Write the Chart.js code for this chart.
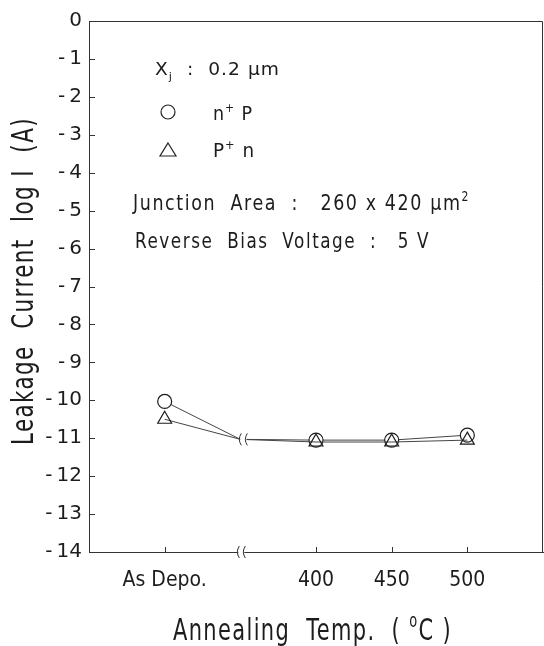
<!DOCTYPE html>
<html>
<head>
<meta charset="utf-8">
<script src="https://cdn.jsdelivr.net/npm/chart.js@4"></script>
<style>
  html, body { margin: 0; padding: 0; background: #fff; }
  canvas { display: block; }
</style>
</head>
<body>
<canvas id="chart" width="544" height="646"></canvas>
<script>
// --- DONNEES ---
const categories = ['As Depo.', '', '400', '450', '500'];
const xPos = [0, 1, 2, 3, 4];            // 1 = cassure de l'axe
const breakIndex = 1;
const nPlusP = [-10.03, -11.03, -11.05, -11.05, -10.92];   // cercles
const pPlusN = [-10.5, -11.03, -11.1, -11.1, -11.05];      // triangles
const xTickValues = [0, 2, 3, 4];
const yTickValues = [0, -1, -2, -3, -4, -5, -6, -7, -8, -9, -10, -11, -12, -13, -14];
const yTickLabels = ['0', '-\u20091', '-\u20092', '-\u20093', '-\u20094', '-\u20095', '-\u20096', '-\u20097',
                     '-\u20098', '-\u20099', '-\u200910', '-\u200911', '-\u200912', '-\u200913', '-\u200914'];

const INK = '#1c1c1c';
const FONT = "'DejaVu Sans', sans-serif";

// texte avec indices / exposants, etire pour coller a la largeur voulue
function drawRich(ctx, parts, x, base, size, width, spacing) {
    ctx.save();
    ctx.letterSpacing = (spacing || 0) + 'px';
    const seg = parts.map(p => {
        const s = p.sup || p.sub ? size * 0.62 : size;
        ctx.font = `${s}px ${FONT}`;
        return { t: p.t, s, dy: p.sup ? -size * 0.42 : p.sub ? size * 0.28 : 0, w: ctx.measureText(p.t).width };
    });
    const total = seg.reduce((a, b) => a + b.w, 0);
    ctx.translate(x, base);
    if (width) ctx.scale(width / total, 1);
    ctx.fillStyle = INK;
    ctx.textBaseline = 'alphabetic';
    let cx = 0;
    seg.forEach(g => {
        ctx.font = `${g.s}px ${FONT}`;
        ctx.fillText(g.t, cx, g.dy);
        cx += g.w;
    });
    ctx.restore();
}

function breakMark(ctx, px, py) {
    ctx.fillStyle = '#fff';
    ctx.fillRect(px - 2, py - 3, 6, 6);
    ctx.strokeStyle = '#333';
    ctx.lineWidth = 1;
    [px - 3, px + 3].forEach(bx => {
        ctx.beginPath();
        ctx.moveTo(bx + 2, py - 6);
        ctx.quadraticCurveTo(bx - 2, py, bx + 2, py + 6);
        ctx.stroke();
    });
}

const decor = {
    id: 'decor',
    afterDraw(chart) {
        const { ctx, chartArea: a, scales: { x, y } } = chart;
        ctx.save();
        ctx.strokeStyle = '#333';
        ctx.lineWidth = 1;
        // cadre haut / droite
        ctx.beginPath();
        ctx.moveTo(a.left, a.top + 0.5);
        ctx.lineTo(a.right - 0.5, a.top + 0.5);
        ctx.lineTo(a.right - 0.5, a.bottom);
        ctx.stroke();
        // graduations vers l'interieur
        ctx.beginPath();
        yTickValues.forEach(v => {
            const py = Math.round(y.getPixelForValue(v)) + 0.5;
            ctx.moveTo(a.left, py); ctx.lineTo(a.left + 6, py);
        });
        xTickValues.forEach(v => {
            const px = Math.round(x.getPixelForValue(v)) + 0.5;
            ctx.moveTo(px, a.bottom); ctx.lineTo(px, a.bottom - 5);
        });
        ctx.stroke();
        // cassures
        const bx = x.getPixelForValue(xPos[breakIndex]);
        breakMark(ctx, bx, a.bottom);
        breakMark(ctx, bx + 2, y.getPixelForValue(nPlusP[breakIndex]));

        // legende
        ctx.strokeStyle = '#222';
        ctx.lineWidth = 1.2;
        ctx.beginPath(); ctx.arc(168, 112, 7, 0, Math.PI * 2); ctx.stroke();
        ctx.beginPath(); ctx.moveTo(168, 143); ctx.lineTo(176, 156); ctx.lineTo(160, 156); ctx.closePath(); ctx.stroke();

        drawRich(ctx, [{ t: 'X' }, { t: 'j', sub: true }, { t: '  :  0.2 μm' }], 155, 75, 18, 125, 1);
        drawRich(ctx, [{ t: 'n' }, { t: '+', sup: true }, { t: ' P' }], 213, 120, 19, 40, 1);
        drawRich(ctx, [{ t: 'P' }, { t: '+', sup: true }, { t: ' n' }], 213, 157, 19, 42, 1);
        drawRich(ctx, [{ t: 'Junction  Area  :   260 x 420 μm' }, { t: '2', sup: true }], 133, 210, 22, 337, 2);
        drawRich(ctx, [{ t: 'Reverse  Bias  Voltage  :   5 V' }], 135, 248, 22, 295, 2);

        // titres des axes
        drawRich(ctx, [{ t: 'Annealing  Temp.  ( ' }, { t: 'o', sup: true }, { t: 'C )' }], 173, 640, 31, 279, 2);
        ctx.translate(33, 445);
        ctx.rotate(-Math.PI / 2);
        drawRich(ctx, [{ t: 'Leakage  Current  log I  (A)' }], 0, 0, 30, 328, 2);
        ctx.restore();
    }
};

const toPoints = arr => arr.map((v, i) => ({ x: xPos[i], y: v }));
const radii = (r) => xPos.map((_, i) => i === breakIndex ? 0 : r);

new Chart(document.getElementById('chart'), {
    type: 'line',
    data: {
        datasets: [
            {
                label: 'P+n',
                data: toPoints(pPlusN),
                borderColor: '#444', borderWidth: 1,
                pointStyle: 'triangle', pointRadius: radii(8),
                pointBorderColor: INK, pointBorderWidth: 1.2,
                pointBackgroundColor: 'rgba(255,255,255,0)',
                tension: 0
            },
            {
                label: 'n+P',
                data: toPoints(nPlusP),
                borderColor: '#444', borderWidth: 1,
                pointStyle: 'circle', pointRadius: radii(7),
                pointBorderColor: INK, pointBorderWidth: 1.2,
                pointBackgroundColor: '#fff',
                tension: 0
            }
        ]
    },
    options: {
        responsive: false,
        animation: false,
        events: [],
        layout: { autoPadding: false, padding: { top: 21, right: 1, left: 0, bottom: 0 } },
        plugins: { legend: { display: false }, tooltip: { enabled: false } },
        scales: {
            x: {
                type: 'linear', min: -1, max: 5,
                afterFit: s => { s.height = 94; s.paddingLeft = 0; s.paddingRight = 0; },
                // graduations invisibles : servent seulement a descendre les libelles
                grid: { display: true, drawOnChartArea: false, drawTicks: true, tickLength: 16, color: 'rgba(0,0,0,0)' },
                border: { display: true, color: '#333', width: 1 },
                ticks: {
                    stepSize: 1, autoSkip: false, maxRotation: 0, padding: 0,
                    color: INK, font: { family: "'DejaVu Sans Condensed', 'DejaVu Sans'", size: 21 },
                    callback: v => xTickValues.includes(v) ? categories[v] : ''
                }
            },
            y: {
                min: -14, max: 0,
                afterFit: s => { s.width = 89; },
                grid: { display: false, drawTicks: false },
                border: { display: true, color: '#333', width: 1 },
                ticks: {
                    stepSize: 1, autoSkip: false, padding: 7,
                    color: INK, font: { family: FONT, size: 20 },
                    callback: v => { const k = yTickValues.indexOf(v); return k >= 0 ? yTickLabels[k] : ''; }
                }
            }
        }
    },
    plugins: [decor]
});
</script>
</body>
</html>
